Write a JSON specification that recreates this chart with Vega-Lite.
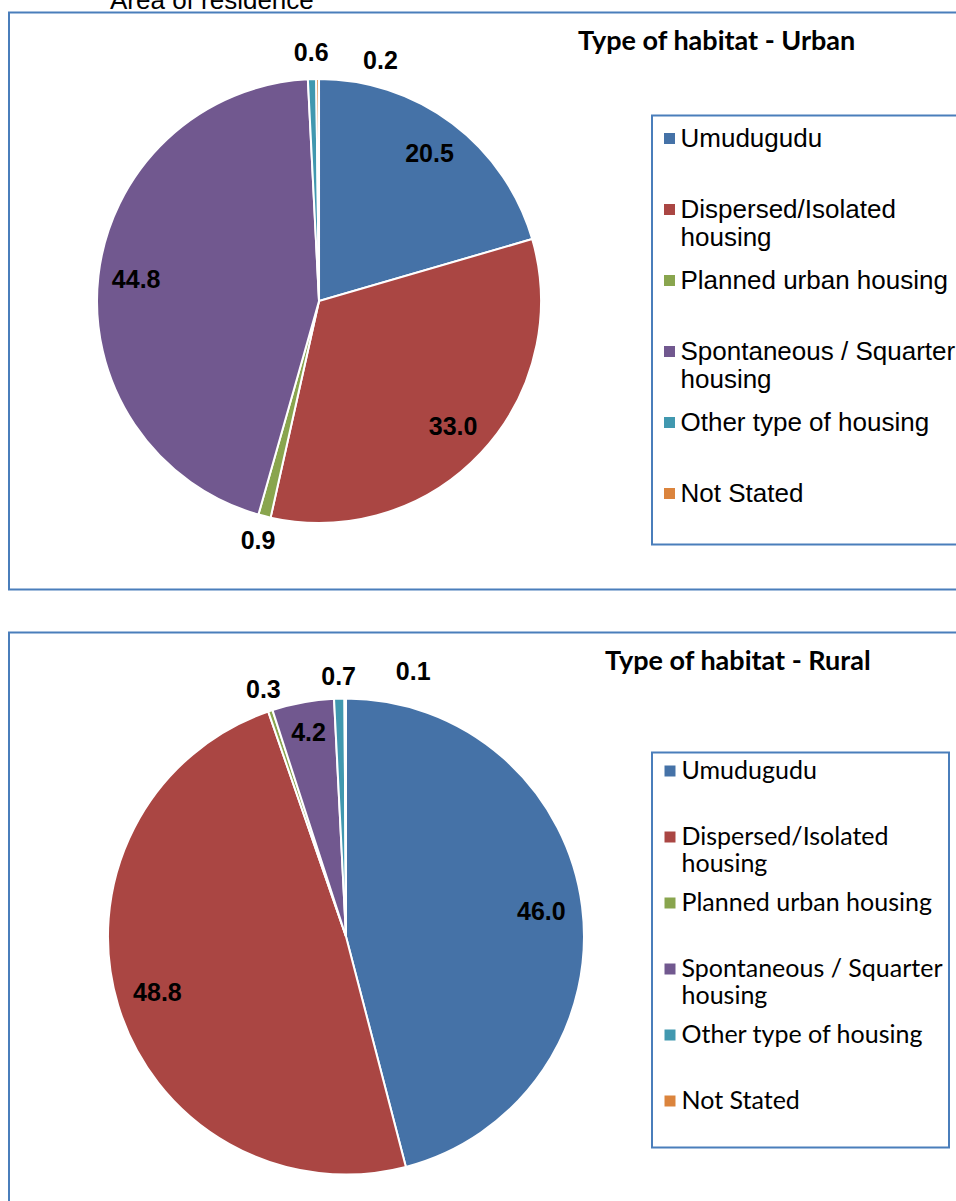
{
  "$schema": "https://vega.github.io/schema/vega-lite/v6.json",
  "background": "white",
  "padding": {"left": 8, "top": -12.5, "right": -24, "bottom": -40},
  "title": {"text": "Area of residence", "anchor": "start", "frame": "group", "dx": 101, "offset": -23, "baseline": "alphabetic", "font": "Liberation Sans", "fontSize": 26, "fontWeight": "normal", "color": "#000000"},
  "datasets": {
    "urban": [
      {"cat": "Umudugudu", "k": 1, "value": 20.5},
      {"cat": "Dispersed/Isolated housing", "k": 2, "value": 33.0},
      {"cat": "Planned urban housing", "k": 3, "value": 0.9},
      {"cat": "Spontaneous / Squarter housing", "k": 4, "value": 44.8},
      {"cat": "Other type of housing", "k": 5, "value": 0.6},
      {"cat": "Not Stated", "k": 6, "value": 0.2}
    ],
    "rural": [
      {"cat": "Umudugudu", "k": 1, "value": 46.0},
      {"cat": "Dispersed/Isolated housing", "k": 2, "value": 48.8},
      {"cat": "Planned urban housing", "k": 3, "value": 0.3},
      {"cat": "Spontaneous / Squarter housing", "k": 4, "value": 4.2},
      {"cat": "Other type of housing", "k": 5, "value": 0.7},
      {"cat": "Not Stated", "k": 6, "value": 0.1}
    ]
  },
  "spacing": 41,
  "resolve": {"scale": {"color": "independent", "theta": "independent"}, "legend": {"color": "independent"}},
  "vconcat": [
    {
      "width": 970,
      "height": 577,
      "view": {"stroke": "#4A7EBB", "strokeWidth": 2},
      "data": {"name": "urban"},
      "title": {"text": "Type of habitat - Urban", "anchor": "start", "frame": "group", "dx": 569, "offset": -64, "baseline": "alphabetic", "font": "Lato", "fontSize": 27, "fontWeight": "bold", "color": "#000000"},
      "encoding": {
        "theta": {"field": "value", "type": "quantitative", "stack": true},
        "order": {"field": "k", "type": "quantitative"}
      },
      "layer": [
        {
          "mark": {"type": "arc", "outerRadius": 222, "x": {"expr": "width * 0.3196"}, "stroke": "white", "strokeWidth": 2},
          "encoding": {
            "color": {
              "field": "cat", "type": "nominal",
              "scale": {"domain": ["Umudugudu", "Dispersed/Isolated housing", "Planned urban housing", "Spontaneous / Squarter housing", "Other type of housing", "Not Stated"],
                        "range": ["#4572A7", "#AA4643", "#89A54E", "#71588F", "#4198AF", "#DB843D"]},
              "legend": {
                "orient": "none", "legendX": 643, "legendY": 103, "title": null,
                "padding": 10, "strokeColor": "#4A7EBB",
                "symbolType": "square", "symbolSize": 121, "symbolStrokeWidth": 0, "symbolOffset": -5.5,
                "labelFont": "Liberation Sans", "labelFontSize": 26, "labelColor": "#000000",
                "labelLimit": 600, "labelOffset": -2, "rowPadding": 17,
                "labelExpr": "datum.label == 'Dispersed/Isolated housing' ? ['Dispersed/Isolated', 'housing'] : datum.label == 'Spontaneous / Squarter housing' ? ['Spontaneous / Squarter', 'housing'] : [datum.label, ' ']",
                "encode": {
                  "labels": {"update": {"lineHeight": {"value": 31}, "dy": {"value": 15.5}}},
                  "legend": {"update": {"strokeWidth": {"value": 2}}}
                }
              }
            }
          }
        },
        {
          "mark": {"type": "text", "x": {"expr": "width * 0.3196"}, "radius": {"expr": "datum.value < 5 ? 248 : 184"}, "font": "Liberation Sans", "fontSize": 25, "fontWeight": "bold", "color": "#000000"},
          "encoding": {
            "detail": {"field": "cat"},
            "text": {"condition": {"test": "datum.cat !== 'Not Stated'", "field": "value", "type": "quantitative", "format": ".1f"}, "value": ""}
          }
        },
        {
          "mark": {"type": "text", "x": {"expr": "width * 0.3196"}, "radius": 248, "dx": 63, "dy": 8, "font": "Liberation Sans", "fontSize": 25, "fontWeight": "bold", "color": "#000000"},
          "encoding": {
            "detail": {"field": "cat"},
            "text": {"condition": {"test": "datum.cat === 'Not Stated'", "field": "value", "type": "quantitative", "format": ".1f"}, "value": ""}
          }
        }
      ]
    },
    {
      "width": 970,
      "height": 608,
      "view": {"stroke": "#4A7EBB", "strokeWidth": 2},
      "data": {"name": "rural"},
      "title": {"text": "Type of habitat - Rural", "anchor": "start", "frame": "group", "dx": 596, "offset": -64, "baseline": "alphabetic", "font": "Lato", "fontSize": 27, "fontWeight": "bold", "color": "#000000"},
      "encoding": {
        "theta": {"field": "value", "type": "quantitative", "stack": true},
        "order": {"field": "k", "type": "quantitative"}
      },
      "layer": [
        {
          "mark": {"type": "arc", "outerRadius": 238, "x": {"expr": "width * 0.3474"}, "stroke": "white", "strokeWidth": 2},
          "encoding": {
            "color": {
              "field": "cat", "type": "nominal",
              "scale": {"domain": ["Umudugudu", "Dispersed/Isolated housing", "Planned urban housing", "Spontaneous / Squarter housing", "Other type of housing", "Not Stated"],
                        "range": ["#4572A7", "#AA4643", "#89A54E", "#71588F", "#4198AF", "#DB843D"]},
              "legend": {
                "orient": "none", "legendX": 643, "legendY": 120, "title": null,
                "padding": 6, "strokeColor": "#4A7EBB",
                "symbolType": "square", "symbolSize": 121, "symbolStrokeWidth": 0, "symbolOffset": -0.5,
                "labelFont": "Lato", "labelFontSize": 25, "labelColor": "#000000",
                "labelLimit": 600, "labelOffset": -1, "rowPadding": 13,
                "labelExpr": "datum.label == 'Dispersed/Isolated housing' ? ['Dispersed/Isolated', 'housing'] : datum.label == 'Spontaneous / Squarter housing' ? ['Spontaneous / Squarter', 'housing'] : [datum.label, ' ']",
                "encode": {
                  "labels": {"update": {"lineHeight": {"value": 32}, "dy": {"value": 16}}},
                  "legend": {"update": {"strokeWidth": {"value": 2}}}
                }
              }
            }
          }
        },
        {
          "mark": {"type": "text", "x": {"expr": "width * 0.3474"}, "radius": {"expr": "datum.value < 1 ? 260 : datum.value < 10 ? 207 : 197"}, "font": "Liberation Sans", "fontSize": 25, "fontWeight": "bold", "color": "#000000"},
          "encoding": {
            "detail": {"field": "cat"},
            "text": {"condition": {"test": "datum.cat !== 'Not Stated'", "field": "value", "type": "quantitative", "format": ".1f"}, "value": ""}
          }
        },
        {
          "mark": {"type": "text", "x": {"expr": "width * 0.3474"}, "radius": 263, "dx": 68, "dy": -2, "font": "Liberation Sans", "fontSize": 25, "fontWeight": "bold", "color": "#000000"},
          "encoding": {
            "detail": {"field": "cat"},
            "text": {"condition": {"test": "datum.cat === 'Not Stated'", "field": "value", "type": "quantitative", "format": ".1f"}, "value": ""}
          }
        }
      ]
    }
  ],
  "config": {"view": {"stroke": "#4A7EBB", "strokeWidth": 2}, "legend": {"strokeWidth": 2}}
}
